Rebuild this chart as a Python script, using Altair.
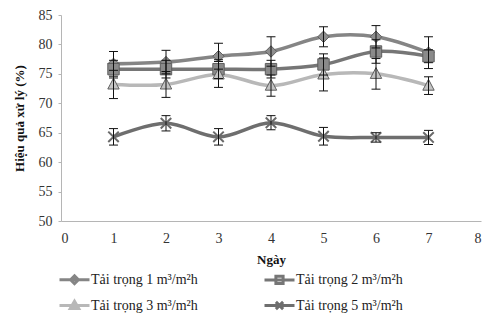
import altair as alt
import pandas as pd

days = [1, 2, 3, 4, 5, 6, 7]
names = ["Tải trọng 1 m³/m²h", "Tải trọng 2 m³/m²h", "Tải trọng 3 m³/m²h", "Tải trọng 5 m³/m²h"]
s1 = [76.7, 77.0, 78.0, 78.8, 81.3, 81.3, 78.6]
s2 = [75.8, 75.8, 75.8, 75.8, 76.6, 78.8, 78.0]
s3 = [73.2, 73.2, 74.9, 73.0, 74.9, 75.0, 73.0]
s4 = [64.3, 66.6, 64.3, 66.7, 64.4, 64.2, 64.2]
e1 = [2.1, 2.0, 2.2, 2.5, 1.7, 1.9, 2.7]
e2 = [1.5, 1.5, 1.6, 1.5, 1.8, 2.0, 1.1]
e3 = [2.4, 2.2, 2.2, 1.8, 2.8, 2.6, 1.5]
e4 = [1.4, 1.3, 1.4, 1.2, 1.5, 0.8, 1.2]
x_ticks = [0, 1, 2, 3, 4, 5, 6, 7, 8]
y_ticks = [50, 55, 60, 65, 70, 75, 80, 85]

line_colors = ["#858585", "#767676", "#b8b8b8", "#6e6e6e"]
fill_colors = ["#8e8e8e", "#8a8a8a", "#c4c4c4", "#6e6e6e"]
marker_paths = [
    "M0,-1L1,0L0,1L-1,0Z",
    "M-1,-1L1,-1L1,1L-1,1Z",
    "M0,-1.1L1,0.8L-1,0.8Z",
    "M-1,-1L1,1M-1,1L1,-1",
]
legend_paths = [
    "M-1.5,0L3.5,0M1,-0.65L1.65,0L1,0.65L0.35,0Z",
    "M-1.5,0L3.5,0M0.4,-0.6L1.6,-0.6L1.6,0.6L0.4,0.6Z",
    "M-1.5,0L3.5,0M1,-0.7L1.7,0.5L0.3,0.5Z",
    "M-1.5,0L3.5,0M0.4,-0.6L1.6,0.6M0.4,0.6L1.6,-0.6",
]

rows = []
for name, vals, errs in zip(names, [s1, s2, s3, s4], [e1, e2, e3, e4]):
    for d, v, e in zip(days, vals, errs):
        rows.append({"day": d, "series": name, "value": v, "lo": v - e, "hi": v + e})
df = pd.DataFrame(rows)

FONT = "Liberation Serif"
xs = alt.Scale(domain=[0, 8], nice=False)
ys = alt.Scale(domain=[50, 85], nice=False)
x_axis = alt.Axis(values=x_ticks, title="Ngày", grid=False, ticks=False,
                  labelPadding=10, titlePadding=8, domainColor="#b5b5b5", labelOverlap=False)
y_axis = alt.Axis(values=y_ticks, title="Hiệu quả xử lý (%)", grid=False,
                  tickSize=3, tickColor="#b5b5b5", labelPadding=6, titlePadding=12,
                  domainColor="#b5b5b5", labelOverlap=False)


def X():
    return alt.X("day:Q", scale=xs, axis=x_axis)


def Y(field):
    return alt.Y(field + ":Q", scale=ys, axis=y_axis)


base = alt.Chart(df)

layers = []
for name, lc in zip(names, line_colors):
    layers.append(base.transform_filter(alt.datum.series == name).mark_line(
        interpolate="cardinal", strokeWidth=3.5, color=lc).encode(x=X(), y=Y("value")))

for name, path, fc in zip(names, marker_paths, fill_colors):
    if path.endswith("L1,-1"):
        mk = dict(shape=path, size=110, filled=False, stroke="#6a6a6a", strokeWidth=2, opacity=1)
    else:
        mk = dict(shape=path, size=130, filled=True, fill=fc, fillOpacity=1,
                  stroke="#5e5e5e", strokeWidth=1, opacity=1)
    layers.append(base.transform_filter(alt.datum.series == name).mark_point(**mk).encode(
        x=X(), y=Y("value")))

layers.append(base.mark_rule(color="#111111", strokeWidth=1).encode(x=X(), y=Y("lo"), y2="hi:Q"))
layers.append(base.mark_point(shape="M-1,0L1,0", size=80, stroke="#111111", strokeWidth=1, opacity=1).encode(x=X(), y=Y("lo")))
layers.append(base.mark_point(shape="M-1,0L1,0", size=80, stroke="#111111", strokeWidth=1, opacity=1).encode(x=X(), y=Y("hi")))

leg = alt.Legend(title=None, orient="bottom", offset=6, columns=2, direction="horizontal",
                 columnPadding=60, rowPadding=5, symbolSize=144, padding=0,
                 labelFont=FONT, labelFontSize=14, labelColor="#222222",
                 labelOffset=15, symbolStrokeWidth=3)
layers.append(base.mark_point(filled=False, strokeWidth=3, opacity=1, size=0).encode(
    x=X(), y=Y("value"),
    color=alt.Color("series:N", scale=alt.Scale(domain=names, range=line_colors), legend=leg),
    shape=alt.Shape("series:N", scale=alt.Scale(domain=names, range=legend_paths), legend=leg),
))

chart = alt.layer(*layers).properties(
    width=420, height=206,
    padding={"left": 5, "top": 0, "right": 2, "bottom": 0},
).configure_view(stroke=None).configure_axis(
    labelFont=FONT, labelFontSize=14, labelColor="#333333",
    titleFont=FONT, titleFontSize=13, titleFontWeight="bold", titleColor="#111111",
)

chart.save("out.html", embed_options={"renderer": "svg", "actions": False})
